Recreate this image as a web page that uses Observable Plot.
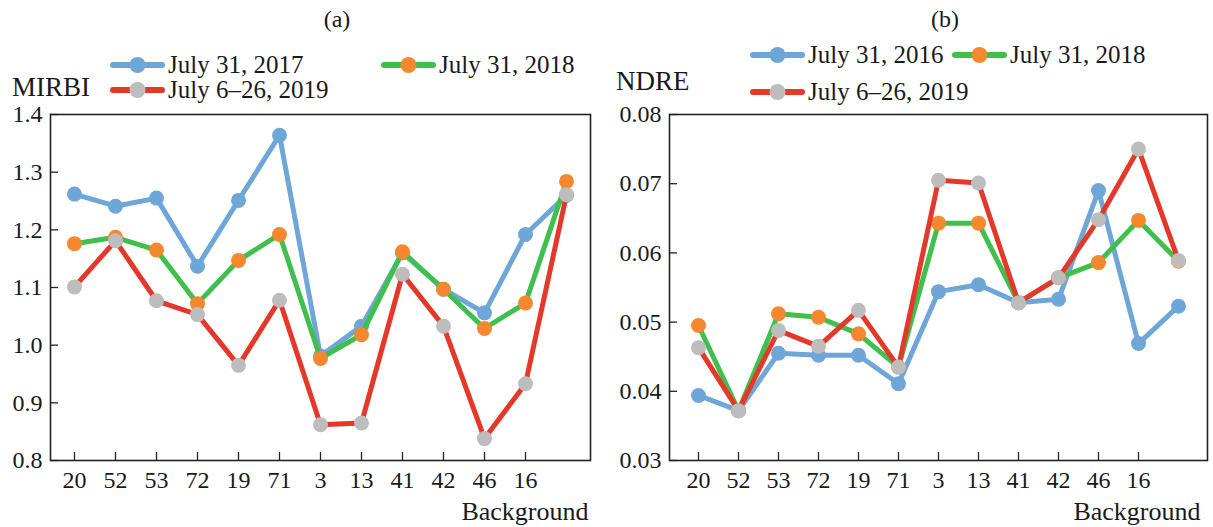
<!DOCTYPE html>
<html><head><meta charset="utf-8">
<script src="https://cdn.jsdelivr.net/npm/d3@7"></script>
<script src="https://cdn.jsdelivr.net/npm/@observablehq/plot@0.6"></script>
<style>
body{margin:0;background:#fff;}
#wrap{position:relative;width:1213px;height:527px;font-family:"Liberation Serif","Times New Roman",serif;color:#1a1a1a;}
#wrap > svg{position:absolute;}
</style></head><body><div id="wrap"></div>
<script>
// ---- data ----
const categories = ["20","52","53","72","19","71","3","13","41","42","46","16","Background"];
const mirbi2017 = [1.262,1.241,1.255,1.137,1.251,1.364,0.981,1.033,1.160,1.097,1.056,1.192,1.260];
const mirbi2018 = [1.176,1.187,1.165,1.072,1.147,1.192,0.977,1.018,1.162,1.097,1.029,1.073,1.284];
const mirbi2019 = [1.101,1.181,1.077,1.053,0.965,1.078,0.862,0.865,1.123,1.033,0.838,0.933,1.261];
const ndre2016 = [0.0394,0.0372,0.0455,0.0452,0.0452,0.0411,0.0544,0.0554,0.0528,0.0533,0.0690,0.0469,0.0523];
const ndre2018 = [0.0495,0.0372,0.0512,0.0507,0.0483,0.0435,0.0643,0.0643,0.0528,0.0564,0.0586,0.0647,0.0588];
const ndre2019 = [0.0463,0.0372,0.0488,0.0465,0.0517,0.0435,0.0705,0.0701,0.0528,0.0564,0.0648,0.0750,0.0589];
const mirbiTicks = [0.8,0.9,1.0,1.1,1.2,1.3,1.4];
const ndreTicks = [0.03,0.04,0.05,0.06,0.07,0.08];
const namesA = ["July 31, 2017","July 31, 2018","July 6\u201326, 2019"];
const namesB = ["July 31, 2016","July 31, 2018","July 6\u201326, 2019"];
const lineColors = ["#6fa6d8","#3fbf4c","#e4392a"];
const markerColors = ["#6fa6d8","#f5872f","#bdbdbd"];

const FONT = '"Liberation Serif","Times New Roman",serif';
const wrap = document.getElementById("wrap");
const tickCats = categories.slice(0, 12);

function panel({left, width, marginLeft, marginRight, yDomain, yTicks, fmt, values}) {
  const height = 418, marginTop = 10, marginBottom = 62;
  const frameW = width - marginLeft - marginRight;
  const frameH = height - marginTop - marginBottom;
  const marks = [
    Plot.tickY(yTicks, {y: d => d, insetRight: frameW - 8, stroke: "#222", strokeWidth: 1.3}),
    Plot.tickX(tickCats, {x: d => d, insetTop: frameH - 8, stroke: "#222", strokeWidth: 1.3}),
    Plot.axisY({ticks: yTicks, tickSize: 0, tickPadding: 8, tickFormat: fmt, fontSize: 24, label: null}),
    Plot.axisX({ticks: tickCats, tickSize: 0, tickPadding: 10, fontSize: 24, label: null}),
    Plot.text([categories[12]], {x: d => d, frameAnchor: "bottom", textAnchor: "end", dx: 22, dy: 59, fontSize: 26, fill: "#1a1a1a"})
  ];
  values.forEach((vals, k) => {
    const rows = categories.map((c, i) => ({c, v: vals[i]}));
    marks.push(Plot.line(rows, {x: "c", y: "v", stroke: lineColors[k], strokeWidth: 5}));
    marks.push(Plot.dot(rows, {x: "c", y: "v", fill: markerColors[k], r: 7.5}));
  });
  marks.push(Plot.frame({stroke: "#222", strokeWidth: 1.6}));
  const svg = Plot.plot({
    width, height, marginLeft, marginRight, marginTop, marginBottom,
    style: {fontFamily: FONT, fontSize: "24px", color: "#1a1a1a", background: "transparent", overflow: "visible"},
    x: {type: "point", domain: categories, padding: 0.57, label: null},
    y: {domain: yDomain, label: null},
    marks
  });
  svg.style.left = left + "px";
  svg.style.top = "104px";
  wrap.appendChild(svg);
}

panel({left: 0, width: 600, marginLeft: 50, marginRight: 10, yDomain: [0.8, 1.4], yTicks: mirbiTicks,
  fmt: d => d.toFixed(1), values: [mirbi2017, mirbi2018, mirbi2019]});
panel({left: 600, width: 613, marginLeft: 69, marginRight: 6, yDomain: [0.03, 0.08], yTicks: ndreTicks,
  fmt: d => d.toFixed(2), values: [ndre2016, ndre2018, ndre2019]});

// ---- header: titles, legends, axis names ----
const head = d3.create("svg").attr("width", 1213).attr("height", 104)
  .style("left", "0px").style("top", "0px").style("overflow", "visible")
  .attr("font-family", FONT).attr("fill", "#1a1a1a");
head.append("text").attr("x", 337).attr("y", 27).attr("text-anchor", "middle").attr("font-size", 24).text("(a)");
head.append("text").attr("x", 945).attr("y", 27).attr("text-anchor", "middle").attr("font-size", 24).text("(b)");
head.append("text").attr("x", 12).attr("y", 96).attr("font-size", 27).text("MIRBI");
head.append("text").attr("x", 616).attr("y", 90).attr("font-size", 27).text("NDRE");

function legendItem(x, baseline, k, name) {
  const cy = baseline - 8;
  const g = head.append("g");
  g.append("line").attr("x1", x + 3).attr("x2", x + 52).attr("y1", cy).attr("y2", cy)
    .attr("stroke", lineColors[k]).attr("stroke-width", 6).attr("stroke-linecap", "round");
  g.append("circle").attr("cx", x + 27.5).attr("cy", cy).attr("r", 8).attr("fill", markerColors[k]);
  g.append("text").attr("x", x + 58).attr("y", baseline).attr("font-size", 25).text(name);
}
legendItem(110, 73, 0, namesA[0]);
legendItem(381, 73, 1, namesA[1]);
legendItem(110, 98, 2, namesA[2]);
legendItem(750, 63, 0, namesB[0]);
legendItem(952, 63, 1, namesB[1]);
legendItem(750, 100, 2, namesB[2]);
wrap.appendChild(head.node());
</script></body></html>
